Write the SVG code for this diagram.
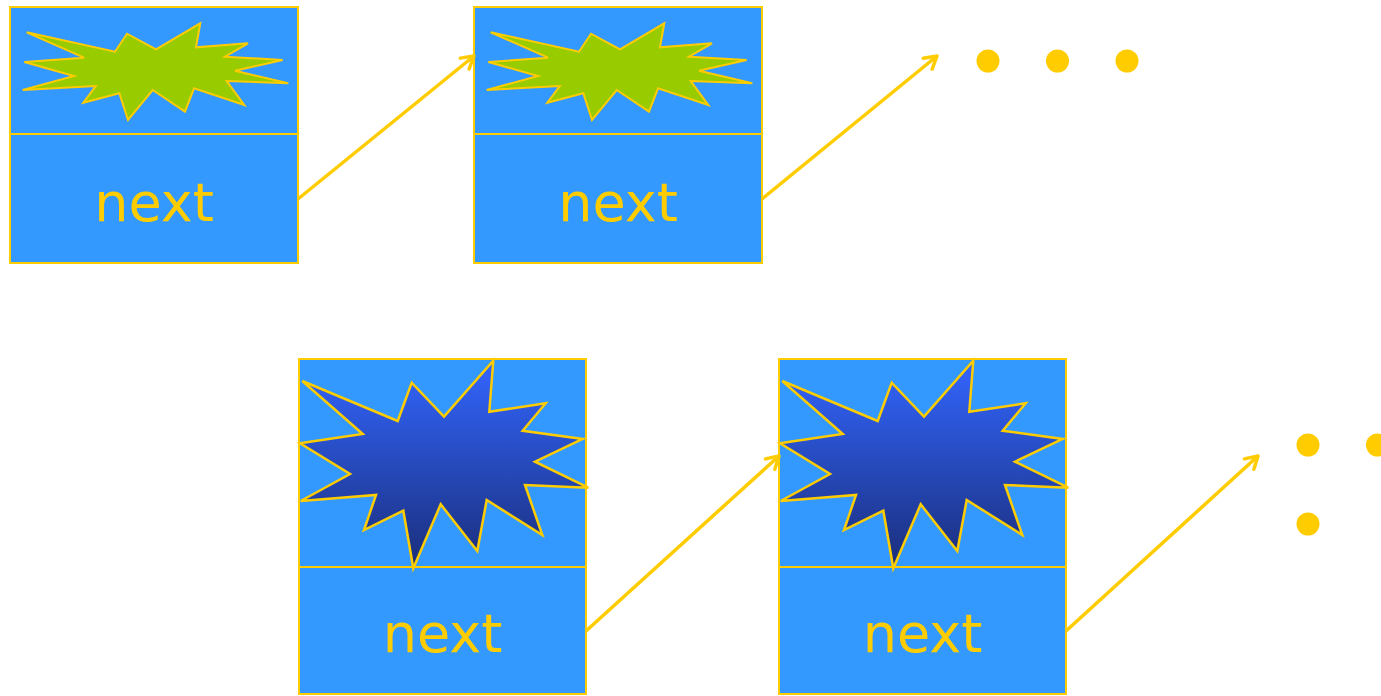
<svg xmlns="http://www.w3.org/2000/svg" width="1381" height="696" viewBox="0 0 1381 696">
<style>
.box{fill:#3399FF;stroke:#FFCC00;stroke-width:2}
.lbl{font-family:"DejaVu Sans",Verdana,sans-serif;font-size:54px;fill:#FFCC00;text-anchor:middle}
.gstar{fill:#99CC00;stroke:#FFCC00;stroke-width:2;stroke-linejoin:miter}
.bstar{fill:url(#bg);stroke:#FFCC00;stroke-width:2.5;stroke-linejoin:miter}
.conn{stroke:#FFCC00;stroke-width:3.5;fill:none;marker-end:url(#ah)}
.dot{fill:#FFCC00}
</style>
<defs>
<linearGradient id="bg" x1="0" y1="0" x2="0" y2="1">
<stop offset="0" stop-color="#3366FF"/>
<stop offset="1" stop-color="#1A2E7A"/>
</linearGradient>
<marker id="ah" viewBox="0 0 20 20" refX="17" refY="10" markerWidth="20" markerHeight="20" markerUnits="userSpaceOnUse" orient="auto">
<path d="M5,3 L17,10 L5,17" fill="none" stroke="#FFCC00" stroke-width="3.5" stroke-linecap="round" stroke-linejoin="round"/>
</marker>
<polygon id="gs" points="26.7,32.3 115,51.7 127,33.7 156,49.3 200.3,23.3 196,47.3 248,43.3 225,56.7 282.7,60 235,70.7 288.3,83.3 226.7,81 244.3,105 194,88.3 185,111.7 152.7,90 128,120 119.3,93.3 83.3,102.7 95.7,86 22.7,90 74,76 24.3,62 84,57.7"/>
<polygon id="bs" points="302.3,381 397.7,421 411.7,382.7 444,416.7 493.3,360.7 489.3,411.7 545.7,403.3 522.7,430.7 582.7,439 535,461.7 588.3,487.7 525,485 542.3,535 486.7,500 477.3,551 440.7,504.3 413.3,568.3 403.3,510.7 364,530 376,495 300.7,501 350,474 300,443.3 362.7,434"/>
</defs>
<g id="node1">
<rect class="box" x="10" y="7" width="288" height="127"/>
<rect class="box" x="10" y="134" width="288" height="129"/>
<use href="#gs" class="gstar"/>
<text class="lbl" x="154" y="221">next</text>
</g>
<g id="node2">
<rect class="box" x="474" y="7" width="288" height="127"/>
<rect class="box" x="474" y="134" width="288" height="129"/>
<use href="#gs" class="gstar" transform="translate(464,0)"/>
<text class="lbl" x="618" y="221">next</text>
</g>
<g id="node3">
<rect class="box" x="299" y="359" width="287" height="208"/>
<rect class="box" x="299" y="567" width="287" height="127"/>
<use href="#bs" class="bstar"/>
<text class="lbl" x="442.5" y="652">next</text>
</g>
<g id="node4">
<rect class="box" x="779" y="359" width="287" height="208"/>
<rect class="box" x="779" y="567" width="287" height="127"/>
<use href="#bs" class="bstar" transform="translate(480,0)"/>
<text class="lbl" x="922.5" y="652">next</text>
</g>
<g id="dots-top">
<circle class="dot" cx="988" cy="61" r="11.5"/>
<circle class="dot" cx="1057.5" cy="61" r="11.5"/>
<circle class="dot" cx="1127" cy="61" r="11.5"/>
</g>
<g id="dots-bottom">
<circle class="dot" cx="1308" cy="445" r="11.5"/>
<circle class="dot" cx="1377.5" cy="445" r="11.5"/>
<circle class="dot" cx="1308" cy="524" r="11.5"/>
</g>
<g id="connectors">
<line class="conn" x1="298" y1="199" x2="474" y2="56"/>
<line class="conn" x1="762" y1="199" x2="937" y2="56"/>
<line class="conn" x1="586" y1="631" x2="779" y2="456"/>
<line class="conn" x1="1066" y1="631" x2="1258" y2="456"/>
</g>
</svg>
